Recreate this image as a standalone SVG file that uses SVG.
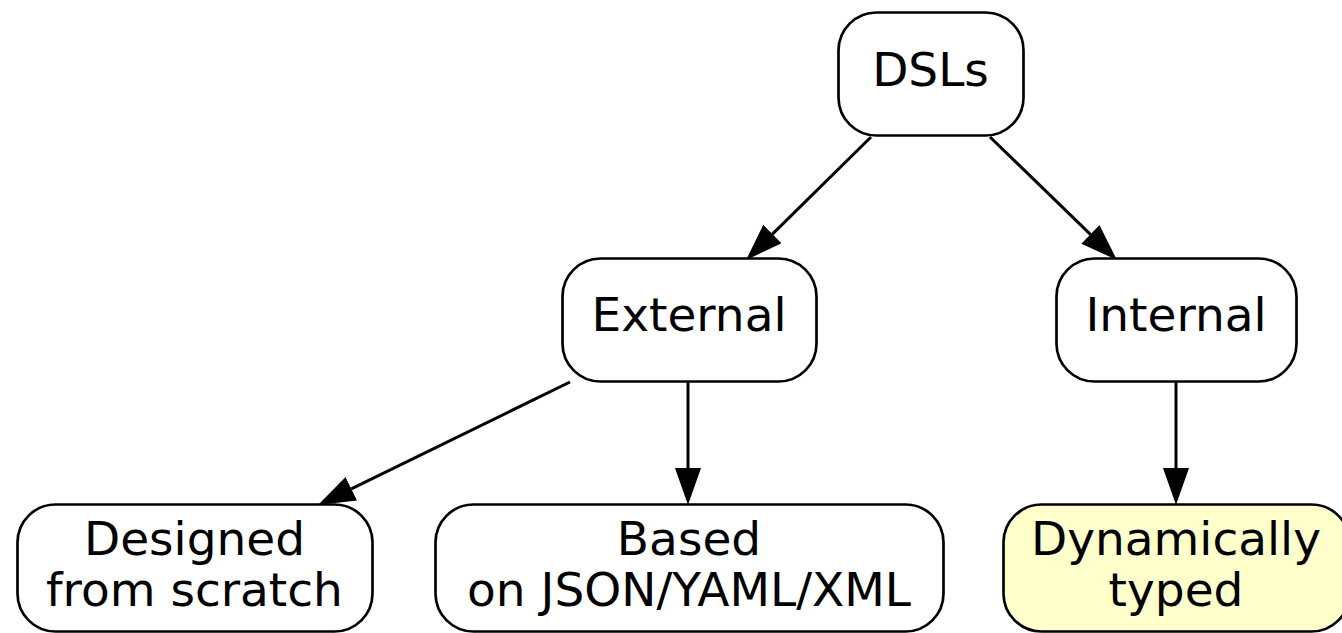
<svg xmlns="http://www.w3.org/2000/svg" width="1342" height="633" viewBox="0 0 1342 633">
<defs>
<marker id="arrow" markerUnits="userSpaceOnUse" markerWidth="37" markerHeight="26" refX="0" refY="13" orient="auto">
<path d="M0,0 L37,13 L0,26 z" fill="#000"/>
</marker>
<style>
.node rect { fill: #fff; stroke: #000; stroke-width: 2.7; }
.node.hl rect { fill: #ffffcc; }
.node text { font-family: "DejaVu Sans", sans-serif; font-size: 47px; text-anchor: middle; fill: #000; }
.edges line { stroke: #000; stroke-width: 3; marker-end: url(#arrow); }
</style>
</defs>
<rect width="1342" height="633" fill="#fff"/>
<g class="edges">
<line x1="871" y1="137" x2="772.4" y2="234.1"/>
<line x1="990" y1="137" x2="1090.4" y2="234.3"/>
<line x1="570" y1="382" x2="351.3" y2="488.8"/>
<line x1="688" y1="382" x2="688" y2="468"/>
<line x1="1176" y1="382" x2="1176" y2="468"/>
</g>
<g id="dsls" class="node">
<rect x="838.5" y="12.5" width="185" height="123" rx="38" ry="38"/>
<text x="930.5" y="86">DSLs</text>
</g>
<g id="external" class="node">
<rect x="562.5" y="258.5" width="254" height="123" rx="38" ry="38"/>
<text x="689" y="331">External</text>
</g>
<g id="internal" class="node">
<rect x="1056.5" y="258.5" width="240" height="123" rx="38" ry="38"/>
<text x="1176" y="331">Internal</text>
</g>
<g id="designed" class="node">
<rect x="17.5" y="504.5" width="355" height="127" rx="38" ry="38"/>
<text x="194.5" y="555">Designed</text>
<text x="194.5" y="606">from scratch</text>
</g>
<g id="based" class="node">
<rect x="435.5" y="504.5" width="508" height="127" rx="38" ry="38"/>
<text x="689" y="555">Based</text>
<text x="689" y="606">on JSON/YAML/XML</text>
</g>
<g id="dynamic" class="node hl">
<rect x="1003.5" y="504.5" width="346" height="127" rx="38" ry="38"/>
<text x="1176" y="555">Dynamically</text>
<text x="1176" y="606">typed</text>
</g>
</svg>
